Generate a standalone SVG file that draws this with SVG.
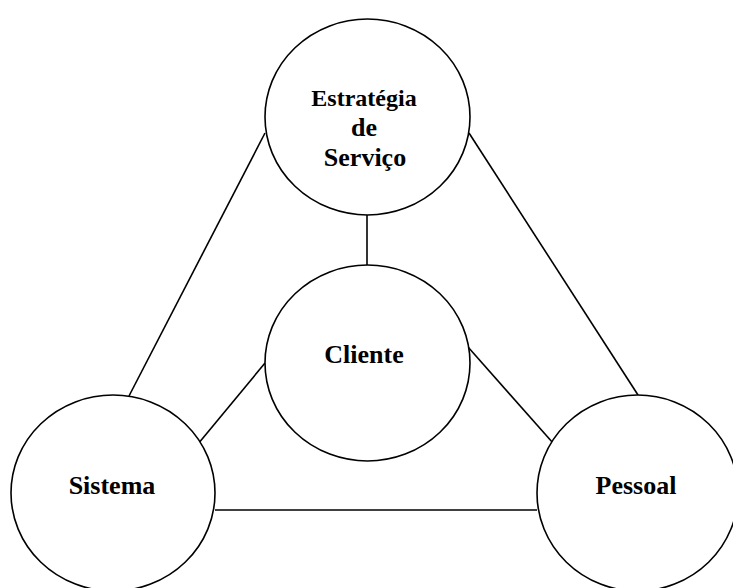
<svg xmlns="http://www.w3.org/2000/svg" width="733" height="588" viewBox="0 0 733 588">
<style>
.node{fill:#fff;stroke:#000;stroke-width:1.6}
.lbl{font-family:"Liberation Serif","Times New Roman",serif;font-weight:bold;font-size:26px;fill:#000;text-anchor:middle}
.conn line{stroke:#000;stroke-width:1.6}
</style>
<rect width="733" height="588" fill="#fff"/>
<g id="connectors" class="conn">
<line x1="367" y1="215" x2="367" y2="265"/>
<line x1="265" y1="133" x2="129" y2="396"/>
<line x1="469" y1="133" x2="638" y2="395"/>
<line x1="265" y1="363" x2="198" y2="444"/>
<line x1="468" y1="347" x2="553" y2="443"/>
<line x1="215" y1="510" x2="537" y2="510"/>
</g>
<g id="estrategia">
<ellipse class="node" cx="367.5" cy="117" rx="102.5" ry="98"/>
<text class="lbl" x="364" y="106" style="font-size:24px">Estratégia</text>
<text class="lbl" x="364" y="136">de</text>
<text class="lbl" x="365" y="166">Serviço</text>
</g>
<g id="cliente">
<ellipse class="node" cx="367.5" cy="363" rx="102.5" ry="98"/>
<text class="lbl" x="364" y="363">Cliente</text>
</g>
<g id="sistema">
<ellipse class="node" cx="113" cy="493" rx="102" ry="98"/>
<text class="lbl" x="112" y="494">Sistema</text>
</g>
<g id="pessoal">
<ellipse class="node" cx="637.5" cy="493" rx="100.5" ry="98"/>
<text class="lbl" x="636" y="494">Pessoal</text>
</g>
</svg>
